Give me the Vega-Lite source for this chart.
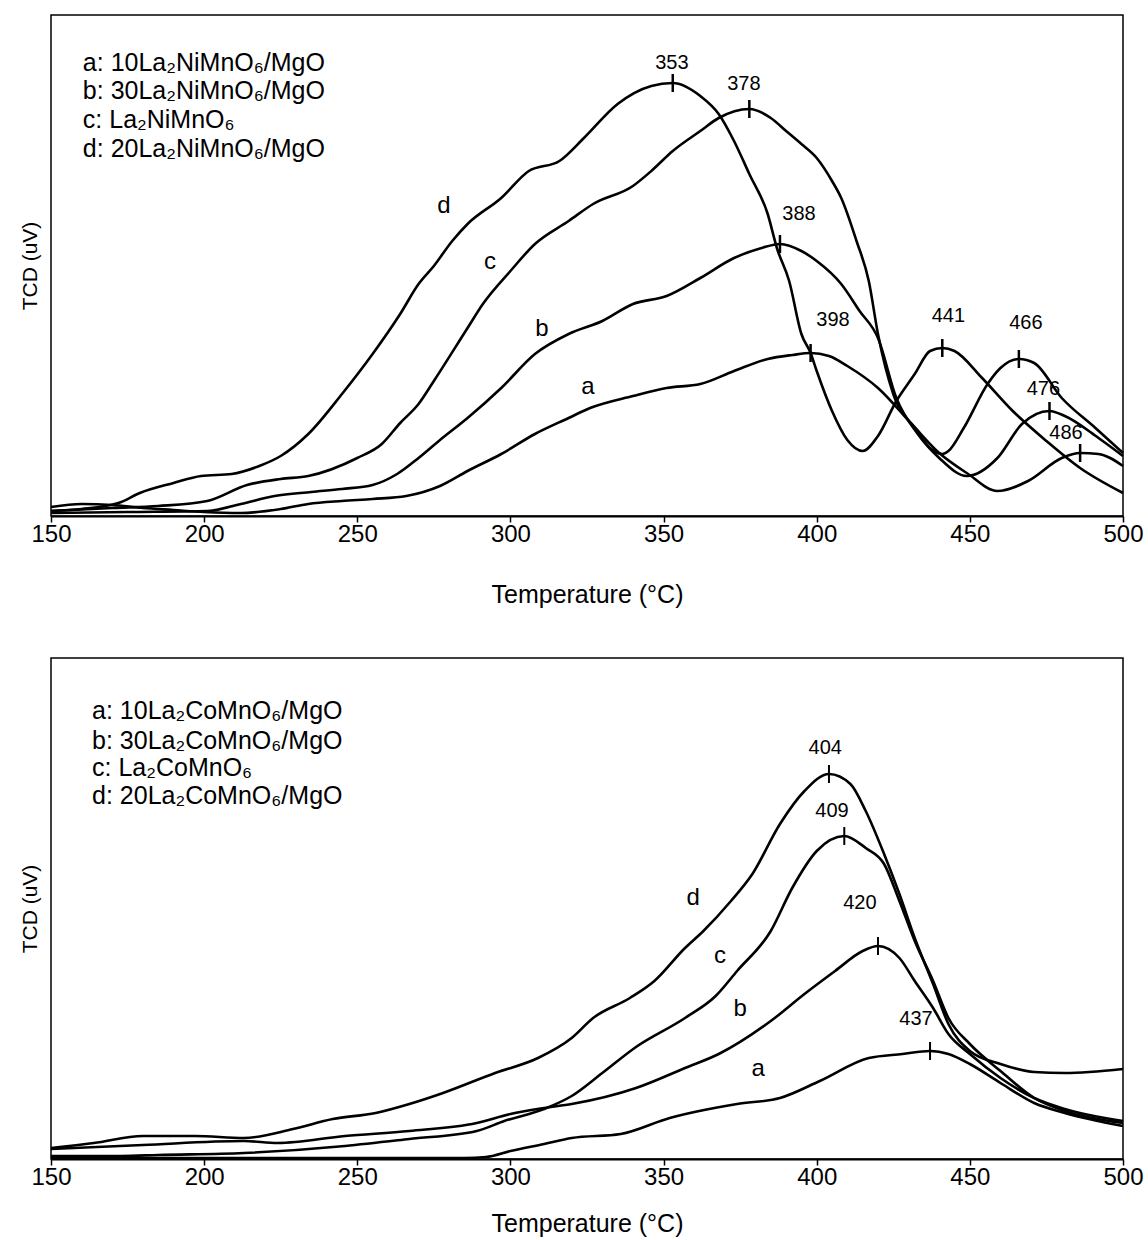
{
"$schema": "https://vega.github.io/schema/vega-lite/v6.json",
"background": "white",
"padding": {"left": 18, "top": 14, "right": 10, "bottom": 5},
"spacing": 49,
"config": {
  "font": "Liberation Sans",
  "view": {"stroke": "#000", "strokeWidth": 1.5},
  "axis": {"grid": false, "titleFontWeight": "normal", "labelColor": "#000", "titleColor": "#000"},
  "text": {"color": "#000"}
},
"datasets": {
  "topCurves": [
    {"s":"a","T":150,"v":9},{"s":"a","T":160,"v":12},{"s":"a","T":170,"v":11},{"s":"a","T":180,"v":8},{"s":"a","T":190,"v":6},{"s":"a","T":200,"v":4},{"s":"a","T":212,"v":3},{"s":"a","T":225,"v":7},{"s":"a","T":234,"v":12},{"s":"a","T":245,"v":15},{"s":"a","T":255,"v":17},{"s":"a","T":266,"v":20},{"s":"a","T":277,"v":30},{"s":"a","T":286,"v":45},{"s":"a","T":297,"v":62},{"s":"a","T":308,"v":82},{"s":"a","T":319,"v":98},{"s":"a","T":326,"v":108},{"s":"a","T":340,"v":120},{"s":"a","T":351,"v":128},{"s":"a","T":362,"v":132},{"s":"a","T":373,"v":145},{"s":"a","T":384,"v":157},{"s":"a","T":392,"v":161},{"s":"a","T":398,"v":163},{"s":"a","T":404,"v":160},{"s":"a","T":410,"v":150},{"s":"a","T":420,"v":128},{"s":"a","T":431,"v":92},{"s":"a","T":440,"v":63},{"s":"a","T":449,"v":43},{"s":"a","T":459,"v":25},{"s":"a","T":469,"v":35},{"s":"a","T":480,"v":58},{"s":"a","T":486,"v":63},{"s":"a","T":492,"v":62},{"s":"a","T":500,"v":50},
    {"s":"b","T":150,"v":3},{"s":"b","T":175,"v":4},{"s":"b","T":201,"v":5},{"s":"b","T":212,"v":12},{"s":"b","T":223,"v":20},{"s":"b","T":235,"v":24},{"s":"b","T":245,"v":27},{"s":"b","T":255,"v":31},{"s":"b","T":263,"v":42},{"s":"b","T":270,"v":58},{"s":"b","T":277,"v":76},{"s":"b","T":286,"v":98},{"s":"b","T":297,"v":128},{"s":"b","T":308,"v":162},{"s":"b","T":319,"v":182},{"s":"b","T":330,"v":195},{"s":"b","T":340,"v":212},{"s":"b","T":351,"v":220},{"s":"b","T":362,"v":238},{"s":"b","T":373,"v":258},{"s":"b","T":382,"v":268},{"s":"b","T":388,"v":272},{"s":"b","T":395,"v":265},{"s":"b","T":400,"v":255},{"s":"b","T":408,"v":232},{"s":"b","T":414,"v":205},{"s":"b","T":420,"v":178},{"s":"b","T":426,"v":118},{"s":"b","T":433,"v":82},{"s":"b","T":440,"v":58},{"s":"b","T":449,"v":40},{"s":"b","T":459,"v":58},{"s":"b","T":467,"v":92},{"s":"b","T":476,"v":105},{"s":"b","T":481,"v":100},{"s":"b","T":492,"v":78},{"s":"b","T":500,"v":60},
    {"s":"c","T":150,"v":5},{"s":"c","T":170,"v":8},{"s":"c","T":185,"v":10},{"s":"c","T":201,"v":15},{"s":"c","T":214,"v":31},{"s":"c","T":225,"v":37},{"s":"c","T":234,"v":40},{"s":"c","T":250,"v":58},{"s":"c","T":258,"v":72},{"s":"c","T":264,"v":93},{"s":"c","T":270,"v":112},{"s":"c","T":275,"v":135},{"s":"c","T":286,"v":188},{"s":"c","T":291,"v":212},{"s":"c","T":300,"v":245},{"s":"c","T":308,"v":272},{"s":"c","T":319,"v":295},{"s":"c","T":327,"v":312},{"s":"c","T":340,"v":330},{"s":"c","T":346,"v":345},{"s":"c","T":353,"v":365},{"s":"c","T":362,"v":385},{"s":"c","T":368,"v":398},{"s":"c","T":378,"v":407},{"s":"c","T":385,"v":398},{"s":"c","T":390,"v":385},{"s":"c","T":395,"v":372},{"s":"c","T":400,"v":358},{"s":"c","T":405,"v":335},{"s":"c","T":408,"v":318},{"s":"c","T":413,"v":275},{"s":"c","T":417,"v":235},{"s":"c","T":420,"v":182},{"s":"c","T":425,"v":122},{"s":"c","T":432,"v":88},{"s":"c","T":437,"v":68},{"s":"c","T":441,"v":62},{"s":"c","T":443,"v":65},{"s":"c","T":448,"v":88},{"s":"c","T":456,"v":133},{"s":"c","T":460,"v":148},{"s":"c","T":466,"v":157},{"s":"c","T":471,"v":153},{"s":"c","T":480,"v":118},{"s":"c","T":491,"v":88},{"s":"c","T":500,"v":63},
    {"s":"d","T":150,"v":5},{"s":"d","T":160,"v":7},{"s":"d","T":172,"v":13},{"s":"d","T":179,"v":23},{"s":"d","T":190,"v":33},{"s":"d","T":199,"v":40},{"s":"d","T":209,"v":42},{"s":"d","T":218,"v":50},{"s":"d","T":225,"v":60},{"s":"d","T":234,"v":82},{"s":"d","T":245,"v":122},{"s":"d","T":255,"v":162},{"s":"d","T":264,"v":202},{"s":"d","T":270,"v":232},{"s":"d","T":275,"v":250},{"s":"d","T":281,"v":275},{"s":"d","T":286,"v":292},{"s":"d","T":297,"v":318},{"s":"d","T":306,"v":345},{"s":"d","T":316,"v":355},{"s":"d","T":324,"v":378},{"s":"d","T":335,"v":412},{"s":"d","T":346,"v":430},{"s":"d","T":353,"v":433},{"s":"d","T":362,"v":420},{"s":"d","T":368,"v":402},{"s":"d","T":373,"v":375},{"s":"d","T":378,"v":342},{"s":"d","T":384,"v":302},{"s":"d","T":387,"v":268},{"s":"d","T":391,"v":235},{"s":"d","T":395,"v":182},{"s":"d","T":398,"v":163},{"s":"d","T":400,"v":145},{"s":"d","T":405,"v":105},{"s":"d","T":410,"v":76},{"s":"d","T":415,"v":65},{"s":"d","T":420,"v":80},{"s":"d","T":426,"v":115},{"s":"d","T":432,"v":142},{"s":"d","T":437,"v":165},{"s":"d","T":441,"v":168},{"s":"d","T":445,"v":165},{"s":"d","T":454,"v":138},{"s":"d","T":464,"v":105},{"s":"d","T":475,"v":75},{"s":"d","T":486,"v":48},{"s":"d","T":500,"v":23}
  ],
  "topPeaks": [
    {"T":353,"v":433},{"T":378,"v":407},{"T":388,"v":272},{"T":398,"v":163},{"T":441,"v":168},{"T":466,"v":157},{"T":476,"v":105},{"T":486,"v":63}
  ],
  "topText": [
    {"kind":"num","label":"353","T":352.7,"v":453},{"kind":"num","label":"378","T":376.2,"v":432},{"kind":"num","label":"388","T":394.2,"v":302},{"kind":"num","label":"398","T":405.3,"v":196},{"kind":"num","label":"441","T":443,"v":200},{"kind":"num","label":"466","T":468.3,"v":193},{"kind":"num","label":"476","T":474,"v":127},{"kind":"num","label":"486","T":481.4,"v":83},
    {"kind":"letter","label":"d","T":278.3,"v":310},{"kind":"letter","label":"c","T":293.3,"v":254},{"kind":"letter","label":"b","T":310.3,"v":187},{"kind":"letter","label":"a","T":325.3,"v":129},
    {"kind":"legend","label":"a: 10La₂NiMnO₆/MgO","T":160.4,"v":453},{"kind":"legend","label":"b: 30La₂NiMnO₆/MgO","T":160.4,"v":425},{"kind":"legend","label":"c: La₂NiMnO₆","T":160.4,"v":396},{"kind":"legend","label":"d: 20La₂NiMnO₆/MgO","T":160.4,"v":367}
  ],
  "botCurves": [
    {"s":"a","T":150,"v":1},{"s":"a","T":200,"v":1},{"s":"a","T":250,"v":1},{"s":"a","T":285,"v":1},{"s":"a","T":292,"v":2},{"s":"a","T":300,"v":8},{"s":"a","T":311,"v":15},{"s":"a","T":320,"v":21},{"s":"a","T":336,"v":25},{"s":"a","T":352,"v":41},{"s":"a","T":374,"v":55},{"s":"a","T":388,"v":61},{"s":"a","T":401,"v":78},{"s":"a","T":417,"v":101},{"s":"a","T":428,"v":105},{"s":"a","T":437,"v":108},{"s":"a","T":443,"v":105},{"s":"a","T":450,"v":95},{"s":"a","T":460,"v":76},{"s":"a","T":471,"v":56},{"s":"a","T":481,"v":46},{"s":"a","T":500,"v":33},
    {"s":"b","T":150,"v":10},{"s":"b","T":180,"v":14},{"s":"b","T":213,"v":18},{"s":"b","T":224,"v":16},{"s":"b","T":246,"v":23},{"s":"b","T":267,"v":28},{"s":"b","T":289,"v":36},{"s":"b","T":300,"v":45},{"s":"b","T":311,"v":51},{"s":"b","T":320,"v":55},{"s":"b","T":341,"v":71},{"s":"b","T":357,"v":91},{"s":"b","T":368,"v":105},{"s":"b","T":385,"v":138},{"s":"b","T":396,"v":165},{"s":"b","T":406,"v":188},{"s":"b","T":415,"v":208},{"s":"b","T":420,"v":213},{"s":"b","T":427,"v":201},{"s":"b","T":432,"v":178},{"s":"b","T":438,"v":151},{"s":"b","T":443,"v":125},{"s":"b","T":450,"v":105},{"s":"b","T":460,"v":81},{"s":"b","T":471,"v":61},{"s":"b","T":481,"v":50},{"s":"b","T":500,"v":38},
    {"s":"c","T":150,"v":3},{"s":"c","T":173,"v":3},{"s":"c","T":185,"v":4},{"s":"c","T":213,"v":6},{"s":"c","T":246,"v":13},{"s":"c","T":267,"v":20},{"s":"c","T":289,"v":28},{"s":"c","T":298,"v":38},{"s":"c","T":311,"v":50},{"s":"c","T":320,"v":63},{"s":"c","T":330,"v":86},{"s":"c","T":341,"v":112},{"s":"c","T":357,"v":141},{"s":"c","T":367,"v":163},{"s":"c","T":374,"v":188},{"s":"c","T":385,"v":228},{"s":"c","T":392,"v":271},{"s":"c","T":400,"v":308},{"s":"c","T":409,"v":323},{"s":"c","T":416,"v":311},{"s":"c","T":422,"v":295},{"s":"c","T":427,"v":258},{"s":"c","T":432,"v":218},{"s":"c","T":438,"v":178},{"s":"c","T":443,"v":141},{"s":"c","T":450,"v":115},{"s":"c","T":460,"v":88},{"s":"c","T":471,"v":61},{"s":"c","T":481,"v":48},{"s":"c","T":500,"v":36},
    {"s":"d","T":150,"v":11},{"s":"d","T":164,"v":16},{"s":"d","T":180,"v":23},{"s":"d","T":197,"v":23},{"s":"d","T":213,"v":21},{"s":"d","T":229,"v":30},{"s":"d","T":242,"v":40},{"s":"d","T":256,"v":46},{"s":"d","T":267,"v":55},{"s":"d","T":278,"v":66},{"s":"d","T":295,"v":86},{"s":"d","T":309,"v":101},{"s":"d","T":320,"v":121},{"s":"d","T":327,"v":141},{"s":"d","T":339,"v":161},{"s":"d","T":347,"v":178},{"s":"d","T":357,"v":211},{"s":"d","T":363,"v":228},{"s":"d","T":372,"v":258},{"s":"d","T":379,"v":285},{"s":"d","T":388,"v":335},{"s":"d","T":396,"v":368},{"s":"d","T":404,"v":385},{"s":"d","T":411,"v":375},{"s":"d","T":416,"v":348},{"s":"d","T":422,"v":305},{"s":"d","T":427,"v":265},{"s":"d","T":432,"v":221},{"s":"d","T":438,"v":175},{"s":"d","T":443,"v":135},{"s":"d","T":450,"v":108},{"s":"d","T":460,"v":95},{"s":"d","T":471,"v":87},{"s":"d","T":481,"v":86},{"s":"d","T":500,"v":90}
  ],
  "botPeaks": [
    {"T":404,"v":385},{"T":409,"v":323},{"T":420,"v":213},{"T":437,"v":108}
  ],
  "botText": [
    {"kind":"num","label":"404","T":402.8,"v":411},{"kind":"num","label":"409","T":405,"v":348},{"kind":"num","label":"420","T":414.1,"v":256},{"kind":"num","label":"437","T":432.4,"v":140},
    {"kind":"letter","label":"d","T":359.7,"v":261},{"kind":"letter","label":"c","T":368.4,"v":203},{"kind":"letter","label":"b","T":375,"v":150},{"kind":"letter","label":"a","T":380.9,"v":90},
    {"kind":"legend","label":"a: 10La₂CoMnO₆/MgO","T":163.4,"v":448},{"kind":"legend","label":"b: 30La₂CoMnO₆/MgO","T":163.4,"v":418},{"kind":"legend","label":"c: La₂CoMnO₆","T":163.4,"v":391},{"kind":"legend","label":"d: 20La₂CoMnO₆/MgO","T":163.4,"v":363}
  ]
},
"vconcat": [
  {
    "width": 1072, "height": 501,
    "encoding": {
      "x": {"field": "T", "type": "quantitative", "scale": {"domain": [150, 500], "nice": false, "zero": false},
            "axis": {"values": [150,200,250,300,350,400,450,500], "labelFontSize": 24, "labelFlush": false, "tickSize": 6, "tickColor": "#000", "tickWidth": 1.5, "domainColor": "#000", "domainWidth": 2, "labelPadding": 0, "title": "Temperature (°C)", "titleFontSize": 25, "titlePadding": 36}},
      "y": {"field": "v", "type": "quantitative", "scale": {"domain": [0, 501], "nice": false},
            "axis": {"title": "TCD (uV)", "labels": false, "ticks": false, "domain": false, "titleFontSize": 21, "titlePadding": 11}}
    },
    "layer": [
      {"data": {"name": "topCurves"}, "mark": {"type": "line", "color": "#000", "strokeWidth": 2.6, "interpolate": "monotone"}, "encoding": {"detail": {"field": "s"}}},
      {"data": {"name": "topPeaks"}, "mark": {"type": "tick", "orient": "vertical", "size": 18, "thickness": 2.5, "color": "#000", "opacity": 1}},
      {"data": {"name": "topText"}, "transform": [{"filter": "datum.kind === 'num'"}], "mark": {"type": "text", "fontSize": 20, "align": "center", "baseline": "middle"}, "encoding": {"text": {"field": "label"}}},
      {"data": {"name": "topText"}, "transform": [{"filter": "datum.kind === 'letter'"}], "mark": {"type": "text", "fontSize": 24, "align": "center", "baseline": "middle"}, "encoding": {"text": {"field": "label"}}},
      {"data": {"name": "topText"}, "transform": [{"filter": "datum.kind === 'legend'"}], "mark": {"type": "text", "fontSize": 25, "align": "left", "baseline": "middle"}, "encoding": {"text": {"field": "label"}}}
    ]
  },
  {
    "width": 1072, "height": 501,
    "encoding": {
      "x": {"field": "T", "type": "quantitative", "scale": {"domain": [150, 500], "nice": false, "zero": false},
            "axis": {"values": [150,200,250,300,350,400,450,500], "labelFontSize": 24, "labelFlush": false, "tickSize": 6, "tickColor": "#000", "tickWidth": 1.5, "domainColor": "#000", "domainWidth": 2, "labelPadding": 0, "title": "Temperature (°C)", "titleFontSize": 25, "titlePadding": 22}},
      "y": {"field": "v", "type": "quantitative", "scale": {"domain": [0, 501], "nice": false},
            "axis": {"title": "TCD (uV)", "labels": false, "ticks": false, "domain": false, "titleFontSize": 21, "titlePadding": 11}}
    },
    "layer": [
      {"data": {"name": "botCurves"}, "mark": {"type": "line", "color": "#000", "strokeWidth": 2.6, "interpolate": "monotone"}, "encoding": {"detail": {"field": "s"}}},
      {"data": {"name": "botPeaks"}, "mark": {"type": "tick", "orient": "vertical", "size": 18, "thickness": 2, "color": "#000", "opacity": 1}},
      {"data": {"name": "botText"}, "transform": [{"filter": "datum.kind === 'num'"}], "mark": {"type": "text", "fontSize": 20, "align": "center", "baseline": "middle"}, "encoding": {"text": {"field": "label"}}},
      {"data": {"name": "botText"}, "transform": [{"filter": "datum.kind === 'letter'"}], "mark": {"type": "text", "fontSize": 24, "align": "center", "baseline": "middle"}, "encoding": {"text": {"field": "label"}}},
      {"data": {"name": "botText"}, "transform": [{"filter": "datum.kind === 'legend'"}], "mark": {"type": "text", "fontSize": 25, "align": "left", "baseline": "middle"}, "encoding": {"text": {"field": "label"}}}
    ]
  }
]
}
